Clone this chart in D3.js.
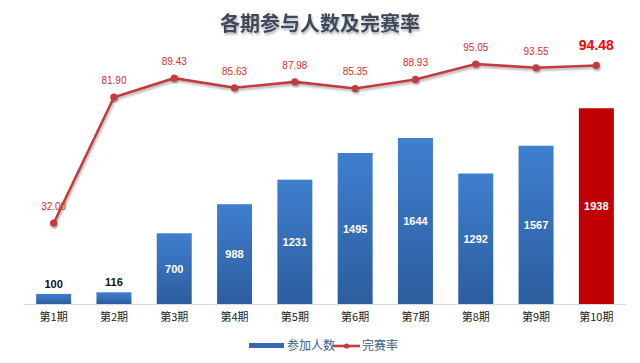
<!DOCTYPE html>
<html>
<head>
<meta charset="utf-8">
<script src="https://cdn.jsdelivr.net/npm/d3@7"></script>
<style>
  body { margin: 0; background: #fff; }
  svg { font-family: "Noto Sans CJK SC", "Noto Sans", sans-serif; }
</style>
</head>
<body>
<div id="chart"></div>
<script>
const categories = ['第1期', '第2期', '第3期', '第4期', '第5期', '第6期', '第7期', '第8期', '第9期', '第10期'];
const participants = [100, 116, 700, 988, 1231, 1495, 1644, 1292, 1567, 1938];
const finishRates = [32.00, 81.90, 89.43, 85.63, 87.98, 85.35, 88.93, 95.05, 93.55, 94.48];
const legendLabels = ['参加人数', '完赛率'];

const width = 640;
const height = 363;
const plotTop = 1;
const plotBottom = 304;

const svg = d3.select('#chart')
  .append('svg')
  .attr('width', width)
  .attr('height', height);

const defs = svg.append('defs');
const blueGrad = defs.append('linearGradient')
  .attr('id', 'blueGrad').attr('x1', 0).attr('y1', 0).attr('x2', 0).attr('y2', 1);
blueGrad.append('stop').attr('offset', '0%').attr('stop-color', '#3f7fcf');
blueGrad.append('stop').attr('offset', '100%').attr('stop-color', '#2c5d9e');

const shadow = defs.append('filter').attr('id', 'shadow')
  .attr('x', '-10%').attr('y', '-10%').attr('width', '120%').attr('height', '140%');
shadow.append('feDropShadow')
  .attr('dx', 1).attr('dy', 2).attr('stdDeviation', 1.2)
  .attr('flood-color', '#000').attr('flood-opacity', 0.3);

const x = d3.scaleBand()
  .domain(categories)
  .range([23.5, 626.5])
  .paddingInner(0.42)
  .paddingOuter(0.21);

const yCount = d3.scaleLinear().domain([0, 3000]).range([plotBottom, plotTop]);
const yRate = d3.scaleLinear().domain([0, 120]).range([plotBottom, plotTop]);

// title
svg.append('text')
  .attr('x', 320)
  .attr('y', 31)
  .attr('text-anchor', 'middle')
  .attr('font-size', 20)
  .attr('font-weight', 'bold')
  .attr('fill', '#3d4a5a')
  .attr('filter', 'url(#shadow)')
  .text('各期参与人数及完赛率');

// baseline
svg.append('line')
  .attr('x1', 23.5).attr('x2', 626.5)
  .attr('y1', plotBottom + 0.5).attr('y2', plotBottom + 0.5)
  .attr('stroke', '#d9d9d9');

// category axis
const xAxis = svg.append('g')
  .attr('transform', 'translate(0,' + plotBottom + ')')
  .call(d3.axisBottom(x).tickSize(0).tickPadding(9));
xAxis.select('.domain').remove();
xAxis.selectAll('text')
  .attr('font-size', 11)
  .attr('fill', '#222')
  .style('font-family', '"Noto Sans CJK SC", sans-serif');

// bars
const last = categories.length - 1;
svg.append('g')
  .selectAll('rect')
  .data(participants)
  .enter()
  .append('rect')
  .attr('x', (d, i) => x(categories[i]))
  .attr('y', (d) => yCount(d))
  .attr('width', x.bandwidth())
  .attr('height', (d) => plotBottom - yCount(d))
  .attr('fill', (d, i) => i === last ? '#c00000' : 'url(#blueGrad)');

// bar labels
svg.append('g')
  .selectAll('text')
  .data(participants)
  .enter()
  .append('text')
  .attr('x', (d, i) => x(categories[i]) + x.bandwidth() / 2)
  .attr('y', (d) => {
    if (d < 300) return yCount(d) - 6;
    return (yCount(d) + plotBottom) / 2 + 4;
  })
  .attr('text-anchor', 'middle')
  .attr('font-size', 11)
  .attr('font-weight', 'bold')
  .attr('fill', (d) => d < 300 ? '#111' : '#fff')
  .style('font-family', '"Liberation Sans", Arial, sans-serif')
  .text((d) => d);

// rate line
const cx = (i) => x(categories[i]) + x.bandwidth() / 2;
const line = d3.line()
  .x((d, i) => cx(i))
  .y((d) => yRate(d));

svg.append('path')
  .attr('d', line(finishRates))
  .attr('fill', 'none')
  .attr('stroke', '#c33b3f')
  .attr('stroke-width', 2.6)
  .attr('filter', 'url(#shadow)');

svg.append('g')
  .selectAll('circle')
  .data(finishRates)
  .enter()
  .append('circle')
  .attr('cx', (d, i) => cx(i))
  .attr('cy', (d) => yRate(d))
  .attr('r', 3.6)
  .attr('fill', '#c33b3f')
  .attr('filter', 'url(#shadow)');

svg.append('g')
  .selectAll('text')
  .data(finishRates)
  .enter()
  .append('text')
  .attr('x', (d, i) => cx(i))
  .attr('y', (d, i) => yRate(d) - (i === last ? 15 : 13))
  .attr('text-anchor', 'middle')
  .attr('font-size', (d, i) => i === last ? 14 : 10)
  .attr('font-weight', (d, i) => i === last ? 'bold' : 'normal')
  .attr('fill', (d, i) => i === last ? '#ff0000' : '#e02a2a')
  .style('font-family', '"Liberation Sans", Arial, sans-serif')
  .text((d) => d.toFixed(2));

// legend
const legend = svg.append('g').attr('transform', 'translate(0,346)');
legend.append('rect')
  .attr('x', 249).attr('y', -3).attr('width', 35).attr('height', 5)
  .attr('fill', '#3568b0');
legend.append('text')
  .attr('x', 287).attr('y', 4)
  .attr('font-size', 12)
  .attr('fill', '#3a5a8a')
  .text(legendLabels[0]);
legend.append('line')
  .attr('x1', 333).attr('x2', 360).attr('y1', 0).attr('y2', 0)
  .attr('stroke', '#c33b3f').attr('stroke-width', 2.6);
legend.append('circle')
  .attr('cx', 346.5).attr('cy', 0).attr('r', 2.6)
  .attr('fill', '#c33b3f');
legend.append('text')
  .attr('x', 362).attr('y', 4)
  .attr('font-size', 12)
  .attr('fill', '#3a5a8a')
  .text(legendLabels[1]);
</script>
</body>
</html>
